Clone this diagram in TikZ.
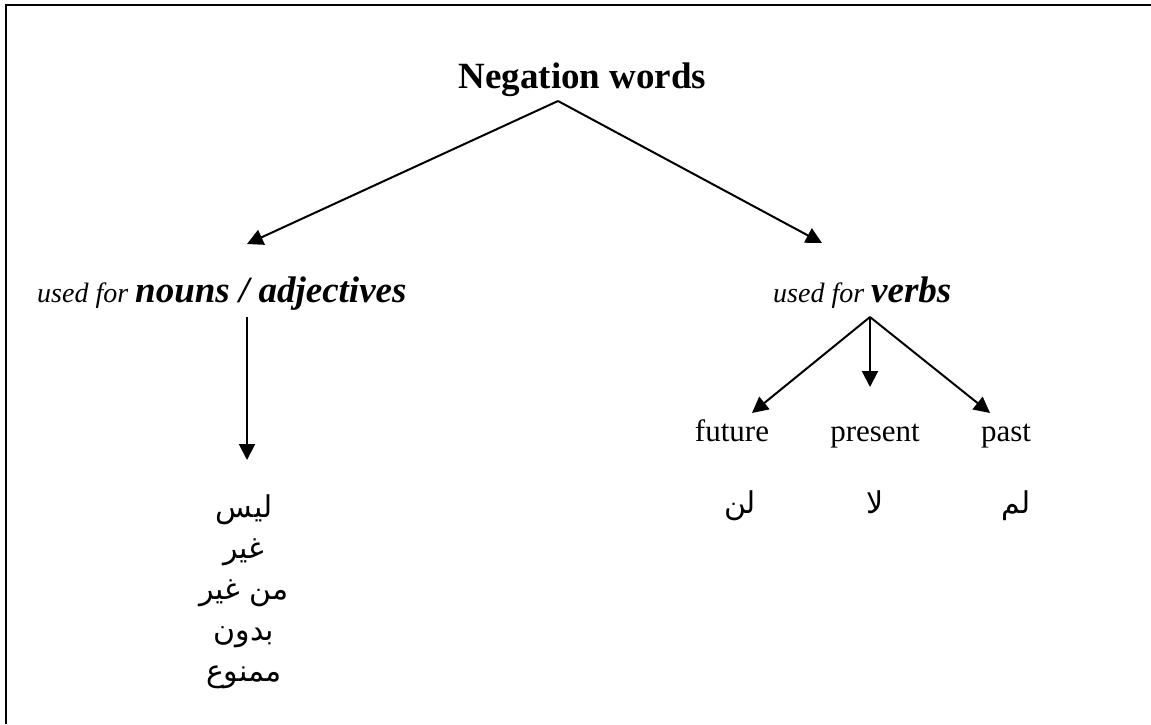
\documentclass[tikz,border=0pt]{standalone}
\usepackage{fontspec}
\setmainfont{Liberation Serif}
\newfontfamily\arabicfont[Script=Arabic]{DejaVu Sans}
\TeXXeTstate=1
\usetikzlibrary{arrows.meta}
\tikzset{
  conn/.style={line width=2pt, -{Triangle[length=16pt,width=16pt]}},
  txt/.style={inner sep=0pt, anchor=base},
  title/.style={txt, font=\fontsize{37}{44}\selectfont\bfseries},
  cat/.style={txt, anchor=base west},
  tense/.style={txt, font=\fontsize{31}{37}\selectfont},
  arab/.style={txt, font=\arabicfont\fontsize{30}{41}\selectfont},
}
\newcommand{\usedfor}{{\fontsize{28}{34}\selectfont\itshape used for\ }}
\newcommand{\bigbi}[1]{{\fontsize{37}{44}\selectfont\bfseries\itshape #1}}
\begin{document}
\begin{tikzpicture}[x=1pt,y=-1pt]
\useasboundingbox (0,0) rectangle (1151,724);
\fill[white] (0,0) rectangle (1151,724);
% frame (top and left edges)
\draw[line width=2.2pt] (6,724) -- (6,5) -- (1151,5);

% texts
\node[title] (neg) at (582.5,88) {Negation words};
\node[cat] (nouns) at (37,302) {\usedfor\bigbi{nouns / adjectives}};
\node[cat] (verbs) at (773,302) {\usedfor\bigbi{verbs}};
\node[tense] (future) at (732,441) {future};
\node[tense] (present) at (875,441) {present};
\node[tense] (past) at (1006,441) {past};
\node[arab] (lan) at (740,513) {\beginR لن\endR};
\node[arab] (la) at (875,513) {\beginR لا\endR};
\node[arab] (lam) at (1016,513) {\beginR لم\endR};
\node[arab] (a1) at (244,517) {\beginR ليس\endR};
\node[arab] (a2) at (244,558) {\beginR غير\endR};
\node[arab] (a3) at (244,599) {\beginR من غير\endR};
\node[arab] (a4) at (244,640) {\beginR بدون\endR};
\node[arab] (a5) at (244,681) {\beginR ممنوع\endR};

% connector points
\coordinate (negapex) at (558,101);
\coordinate (nounstip) at (247,244);
\coordinate (verbstip) at (822,243);
\coordinate (nounsfoot) at (247,317);
\coordinate (arabtip) at (247,460);
\coordinate (verbsapex) at (870,317);
\coordinate (futuretip) at (752,413);
\coordinate (presenttip) at (870,387);
\coordinate (pasttip) at (990,413);

\draw[conn] (negapex) -- (nounstip);
\draw[conn] (negapex) -- (verbstip);
\draw[conn] (nounsfoot) -- (arabtip);
\draw[conn] (verbsapex) -- (futuretip);
\draw[conn] (verbsapex) -- (presenttip);
\draw[conn] (verbsapex) -- (pasttip);
\end{tikzpicture}
\end{document}
